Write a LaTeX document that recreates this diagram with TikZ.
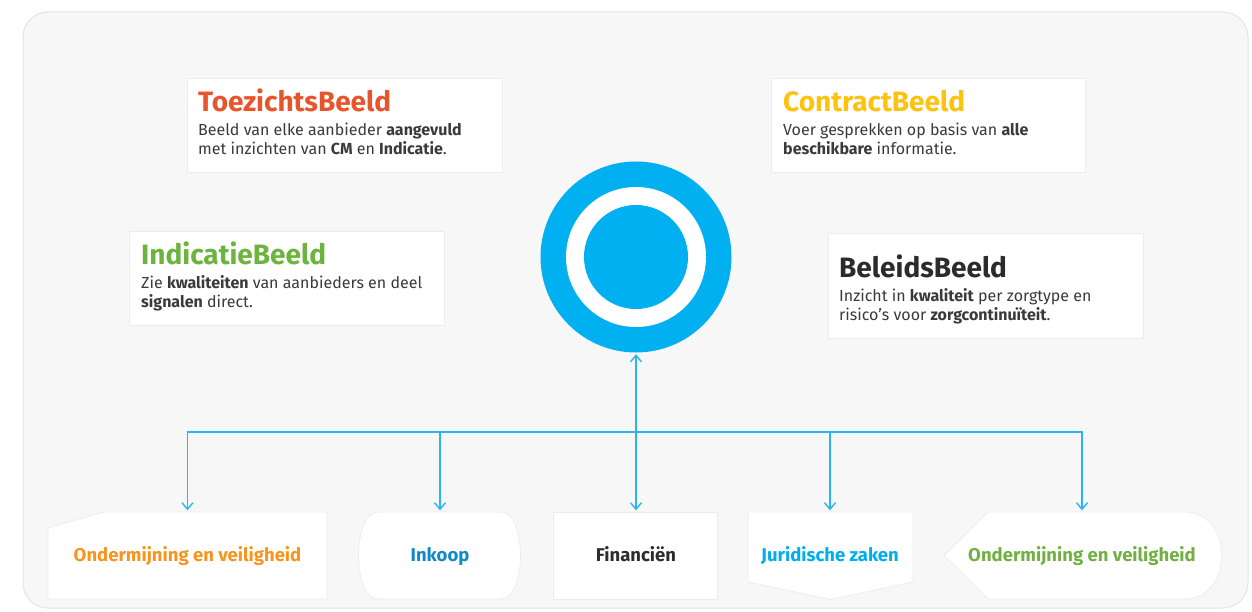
\documentclass[tikz,border=0pt]{standalone}
\usepackage{fontspec}
\setmainfont{Fira Sans}
\usetikzlibrary{arrows.meta}
\definecolor{panelfill}{HTML}{F7F7F7}
\definecolor{panelline}{HTML}{E4E4E4}
\definecolor{cardline}{HTML}{ECECEC}
\definecolor{ringblue}{HTML}{00B0F0}
\definecolor{connblue}{HTML}{29B5F1}
\definecolor{bodytext}{HTML}{3A3A3A}
\definecolor{toezc}{HTML}{E8542C}
\definecolor{indic}{HTML}{6DB33F}
\definecolor{contrc}{HTML}{FFC20E}
\definecolor{beleidc}{HTML}{2B2B2B}
\definecolor{ondorange}{HTML}{F7941D}
\definecolor{inkoopc}{HTML}{1189C6}
\definecolor{finc}{HTML}{2D2D2D}
\definecolor{jurc}{HTML}{00AEEF}
\definecolor{ondgreen}{HTML}{72B043}
\tikzset{
  card/.style={draw=cardline, line width=0.8pt, fill=white, anchor=north west, inner sep=0pt},
  titletext/.style={anchor=base west, inner sep=0pt, font=\fontsize{28}{30}\selectfont\bfseries},
  bodyline/.style={anchor=base west, inner sep=0pt, text=bodytext, font=\fontsize{16}{19}\selectfont},
  boxshape/.style={fill=white, draw=cardline, line width=0.8pt},
  boxlabel/.style={inner sep=0pt, minimum height=87pt, text height=12.5pt, text depth=0pt, font=\fontsize{18.5}{20}\selectfont\bfseries},
  conn/.style={draw=connblue, line width=1.5pt, -{Straight Barb[length=6.5pt,width=11pt,line width=1.4pt]}, shorten >=1.5pt}
}
\begin{document}
\begin{tikzpicture}[x=1pt,y=-1pt]
\useasboundingbox (0,0) rectangle (1252,612);
\fill[white] (0,0) rectangle (1252,612);
% panel
\draw[fill=panelfill, draw=panelline, line width=1pt, rounded corners=25pt] (23,12) rectangle (1248,608);

% cards
\node[card, minimum width=315pt, minimum height=94pt] (toez) at (187,78) {};
\node[card, minimum width=315pt, minimum height=94pt] (indi) at (129,231) {};
\node[card, minimum width=314pt, minimum height=94pt] (contr) at (771,78) {};
\node[card, minimum width=315pt, minimum height=105pt] (bel) at (828,233) {};

\node[titletext, text=toezc] (toezT) at (198,112) {ToezichtsBeeld};
\node[bodyline] (toez1) at (198,136) {Beeld van elke aanbieder \textbf{aangevuld}};
\node[bodyline] (toez2) at (198,155) {met inzichten van \textbf{CM} en \textbf{Indicatie}.};

\node[titletext, text=indic] (indiT) at (141,265) {IndicatieBeeld};
\node[bodyline] (indi1) at (141,288) {Zie \textbf{kwaliteiten} van aanbieders en deel};
\node[bodyline] (indi2) at (141,307.5) {\textbf{signalen} direct.};

\node[titletext, text=contrc] (contrT) at (783,112) {ContractBeeld};
\node[bodyline] (contr1) at (783,136) {Voer gesprekken op basis van \textbf{alle}};
\node[bodyline] (contr2) at (783,155) {\textbf{beschikbare} informatie.};

\node[titletext, text=beleidc] (belT) at (839,277) {BeleidsBeeld};
\node[bodyline] (bel1) at (839,301.5) {Inzicht in \textbf{kwaliteit} per zorgtype en};
\node[bodyline] (bel2) at (839,320) {risico’s voor \textbf{zorgcontinuïteit}.};

% central ring
\node[circle, fill=ringblue, minimum size=191pt, inner sep=0pt] (circ) at (636,257) {};
\fill[white] (circ.center) circle (70);
\fill[ringblue] (circ.center) circle (52);

% bottom shapes
\path[boxshape] (48,528) -- (104,512) -- (327,512) -- (327,599) -- (48,599) -- cycle;
\path[boxshape] (378,512) -- (501,512) .. controls (527,512) and (527,599) .. (501,599) -- (378,599) .. controls (352,599) and (352,512) .. (378,512) -- cycle;
\path[boxshape] (553,512) rectangle (717,599);
\path[boxshape] (748,512) -- (913,512) -- (913,582) -- (830.5,599.5) -- (748,582) -- cycle;
\path[boxshape] (944,555.5) -- (988,512) -- (1185,512) .. controls (1234,512) and (1234,599) .. (1185,599) -- (988,599) -- cycle;

\node[boxlabel, minimum width=279pt, text=ondorange] (b1) at (187.5,555.5) {Ondermijning en veiligheid};
\node[boxlabel, minimum width=165pt, text=inkoopc] (b2) at (440,555.5) {Inkoop};
\node[boxlabel, minimum width=164pt, text=finc] (b3) at (636,555.5) {Financiën};
\node[boxlabel, minimum width=165pt, text=jurc] (b4) at (830,555.5) {Juridische zaken};
\node[boxlabel, minimum width=278pt, text=ondgreen] (b5) at (1082,555.5) {Ondermijning en veiligheid};

% connectors
\coordinate (hub) at (636,432);
\draw[conn] (hub) -- (circ.south);
\draw[conn] (hub) -| (b1.north);
\draw[conn] (hub) -| (b2.north);
\draw[conn] (hub) -- (b3.north);
\draw[conn] (hub) -| (b4.north);
\draw[conn] (hub) -| (b5.north);
\end{tikzpicture}
\end{document}
